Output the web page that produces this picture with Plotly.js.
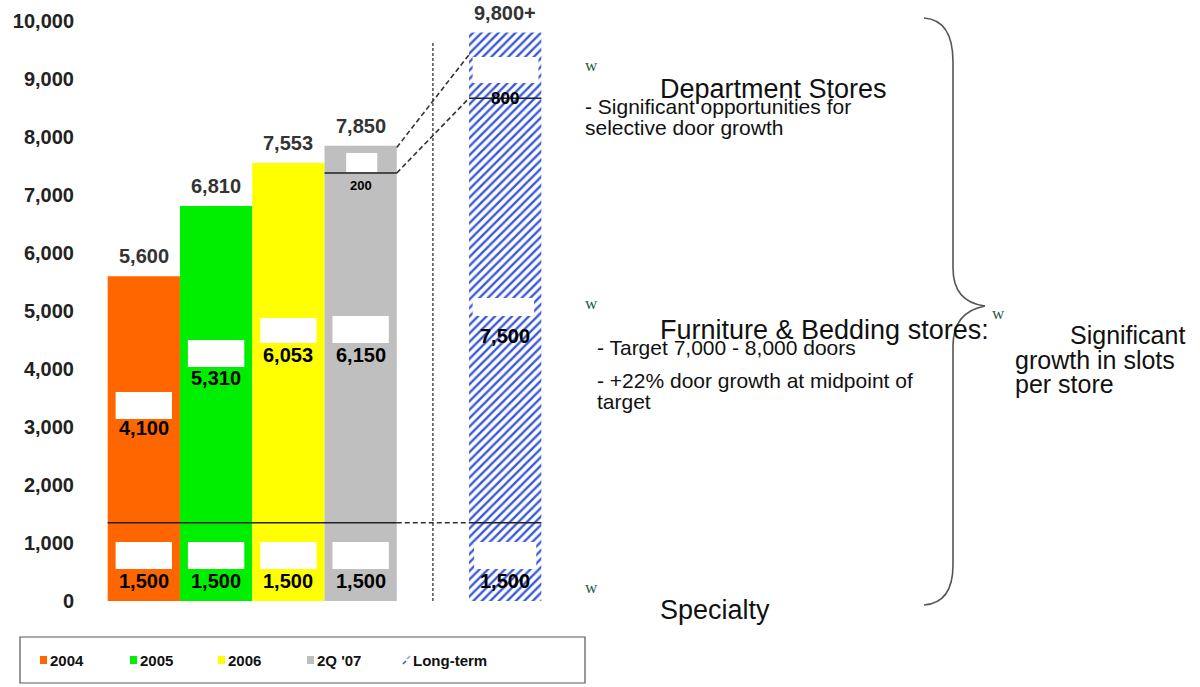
<!DOCTYPE html>
<html><head><meta charset="utf-8">
<script src="https://cdn.plot.ly/plotly-3.0.1.min.js"></script>
<style>html,body{margin:0;padding:0;background:#fff}</style>
</head><body><div id="chart" style="width:1200px;height:687px"></div>
<script>
const categories = ['2004', '2005', '2006', "2Q '07", 'Long-term'];
const positions = [0, 1, 2, 3, 5];
const totals = [5600, 6810, 7553, 7850, 9800];
const totalLabels = ['5,600', '6,810', '7,553', '7,850', '9,800+'];
const specialty = [1500, 1500, 1500, 1500, 1500];
const furniture = [4100, 5310, 6053, 6150, 7500];
const deptStores = [null, null, null, 200, 800];
const specialtyLine = 1350;
const deptLine = [null, null, null, 7380, 8670];
const longTermTopDash = 9420;
const yTicks = [0, 1000, 2000, 3000, 4000, 5000, 6000, 7000, 8000, 9000, 10000];
const colors = ['#ff6600', '#00ee00', '#ffff00', '#bfbfbf', '#3b5bd6'];

const FONT = 'Liberation Sans, Arial, sans-serif';
const L = 86, R = 563, T = 21, B = 601;
const px = x => (x - L) / (R - L);
const py = y => (B - y) / (B - T);
const fmt = v => v.toLocaleString('en-US');

const traces = [];
for (let i = 0; i < 5; i++) {
  const t = {
    type: 'bar', x: [positions[i]], y: [totals[i]], width: 1, name: categories[i],
    showlegend: false, hoverinfo: 'skip',
    marker: {color: colors[i], line: {width: 0}}
  };
  if (i === 4) {
    t.marker = {color: '#ffffff', line: {width: 0},
      pattern: {shape: '/', fgcolor: colors[4], bgcolor: '#ffffff', size: 6, solidity: 0.4}};
  }
  traces.push(t);
}
// connecting dashed lines
traces.push({type: 'scatter', mode: 'lines', x: [positions[3] + 0.5, positions[4] - 0.5],
  y: [totals[3] - 30, longTermTopDash], line: {color: '#333', width: 1.6, dash: '5px,3px'}, showlegend: false, hoverinfo: 'skip'});
traces.push({type: 'scatter', mode: 'lines', x: [positions[3] + 0.5, positions[4] - 0.5],
  y: [deptLine[3], deptLine[4]], line: {color: '#333', width: 1.6, dash: '5px,3px'}, showlegend: false, hoverinfo: 'skip'});

const shapes = [];
const annotations = [];
const white = (x0, x1, y0, y1) => shapes.push({type: 'rect', xref: 'x', yref: 'y', x0, x1, y0, y1,
  fillcolor: '#ffffff', line: {width: 0}, layer: 'above'});

// white label boxes
for (let i = 0; i < 5; i++) {
  const c = positions[i];
  const hw = i === 4 ? 0.43 : 0.39;
  white(c - hw, c + hw, 552, 1017);
}
white(positions[0] - 0.39, positions[0] + 0.39, 3138, 3603);
white(positions[1] - 0.39, positions[1] + 0.39, 4034, 4500);
white(positions[2] - 0.39, positions[2] + 0.39, 4448, 4879);
white(positions[3] - 0.39, positions[3] + 0.39, 4448, 4914);
white(positions[4] - 0.45, positions[4] + 0.40, 4914, 5224);
white(positions[4] - 0.45, positions[4] + 0.46, 8931, 9379);
white(positions[3] - 0.2, positions[3] + 0.23, 7397, 7724);

// horizontal lines
const solidLine = {color: '#222', width: 1.5};
shapes.push({type: 'line', xref: 'x', yref: 'y', x0: positions[0] - 0.5, x1: positions[3] + 0.5, y0: specialtyLine, y1: specialtyLine, line: solidLine, layer: 'above'});
shapes.push({type: 'line', xref: 'x', yref: 'y', x0: positions[3] + 0.5, x1: positions[4] - 0.5, y0: specialtyLine, y1: specialtyLine, line: {color: '#333', width: 1.6, dash: '5px,3px'}, layer: 'above'});
shapes.push({type: 'line', xref: 'x', yref: 'y', x0: positions[4] - 0.5, x1: positions[4] + 0.5, y0: specialtyLine, y1: specialtyLine, line: solidLine, layer: 'above'});
shapes.push({type: 'line', xref: 'x', yref: 'y', x0: positions[3] - 0.5, x1: positions[3] + 0.5, y0: deptLine[3], y1: deptLine[3], line: solidLine, layer: 'above'});
shapes.push({type: 'line', xref: 'x', yref: 'y', x0: positions[4] - 0.5, x1: positions[4] + 0.5, y0: deptLine[4], y1: deptLine[4], line: solidLine, layer: 'above'});
// vertical separator
shapes.push({type: 'line', xref: 'x', yref: 'y', x0: 4, x1: 4, y0: 0, y1: 9640, line: {color: '#333', width: 1.3, dash: '3px,2px'}, layer: 'above'});

// total labels
for (let i = 0; i < 5; i++) {
  annotations.push({x: positions[i], y: totals[i], xref: 'x', yref: 'y', text: totalLabels[i], showarrow: false,
    yanchor: 'middle', yshift: 20, font: {family: FONT, size: 20, color: '#333', weight: 'bold'}});
  annotations.push({x: positions[i], y: 345, xref: 'x', yref: 'y', text: fmt(specialty[i]), showarrow: false,
    yanchor: 'middle', font: {family: FONT, size: 20, color: '#000', weight: 'bold'}});
}
const furnY = [2983, 3845, 4241, 4241, 4569];
for (let i = 0; i < 5; i++) {
  annotations.push({x: positions[i], y: furnY[i], xref: 'x', yref: 'y', text: fmt(furniture[i]), showarrow: false,
    yanchor: 'middle', font: {family: FONT, size: 20, color: '#000', weight: 'bold'}});
}
annotations.push({x: positions[3], y: 7172, xref: 'x', yref: 'y', text: fmt(deptStores[3]), showarrow: false,
  yanchor: 'middle', font: {family: FONT, size: 13, color: '#000', weight: 'bold'}});
annotations.push({x: positions[4], y: deptLine[4], xref: 'x', yref: 'y', text: fmt(deptStores[4]), showarrow: false,
  yanchor: 'middle', font: {family: FONT, size: 17, color: '#000', weight: 'bold'}});

// right side texts
const txt = (x, y, text, size, extra) => annotations.push(Object.assign({x: px(x), y: py(y), xref: 'paper', yref: 'paper',
  text, showarrow: false, xanchor: 'left', yanchor: 'middle', font: {family: FONT, size, color: '#111'}}, extra || {}));
txt(658, 89, 'Department Stores', 27);
txt(583, 106, '- Significant opportunities for', 21);
txt(583, 128, 'selective door growth', 21);
txt(658, 330, 'Furniture &amp; Bedding stores:', 27);
txt(595, 347, '- Target 7,000 - 8,000 doors', 21);
txt(595, 380, '- +22% door growth at midpoint of', 21);
txt(595, 402, 'target', 21);
txt(658, 610, 'Specialty', 27);
txt(1068, 335, 'Significant', 25);
txt(1013, 360, 'growth in slots', 25);
txt(1013, 384, 'per store', 25);
const wFont = {family: 'Liberation Serif, DejaVu Serif, serif', size: 17, color: '#1e5a4a'};
[[583, 65], [583, 303], [583, 587], [990, 313]].forEach(p => txt(p[0], p[1], 'w', 17, {font: wFont}));

// brace
const P = (x, y) => px(x).toFixed(5) + ',' + py(y).toFixed(5);
const bracePath = 'M' + P(924, 18) + ' Q' + P(953, 20) + ' ' + P(953, 62) + ' L' + P(953, 268) +
  ' Q' + P(953, 302) + ' ' + P(985, 306) + ' Q' + P(953, 312) + ' ' + P(953, 346) + ' L' + P(953, 565) +
  ' Q' + P(953, 603) + ' ' + P(924, 605);
shapes.push({type: 'path', xref: 'paper', yref: 'paper', path: bracePath, line: {color: '#555', width: 1.6}});

// legend box
shapes.push({type: 'rect', xref: 'paper', yref: 'paper', x0: px(20), x1: px(585), y0: py(683), y1: py(637),
  line: {color: '#555', width: 1.2}, fillcolor: 'rgba(0,0,0,0)'});
const legX = [40, 130, 218, 307, 403];
for (let i = 0; i < 5; i++) {
  if (i < 4) {
    shapes.push({type: 'rect', xref: 'paper', yref: 'paper', x0: px(legX[i]), x1: px(legX[i] + 7), y0: py(664), y1: py(656),
      fillcolor: colors[i], line: {width: 0}});
  } else {
    shapes.push({type: 'line', xref: 'paper', yref: 'paper', x0: px(legX[i]), x1: px(legX[i] + 3), y0: py(664), y1: py(661), line: {color: colors[4], width: 1.6}});
    shapes.push({type: 'line', xref: 'paper', yref: 'paper', x0: px(legX[i] + 4), x1: px(legX[i] + 7), y0: py(659), y1: py(656), line: {color: '#8fa3e6', width: 1.6}});
  }
  annotations.push({x: px(legX[i] + 8), y: py(660), xref: 'paper', yref: 'paper', text: categories[i], showarrow: false,
    xanchor: 'left', yanchor: 'middle', font: {family: FONT, size: 15, color: '#111', weight: 'bold'}});
}

const layout = {
  width: 1200, height: 687,
  margin: {l: L, r: 1200 - R, t: T, b: 687 - B, pad: 0},
  paper_bgcolor: '#fff', plot_bgcolor: '#fff',
  showlegend: false, barmode: 'overlay',
  xaxis: {range: [-0.8, 5.8], showgrid: false, zeroline: false, showline: false, showticklabels: false, ticks: '', fixedrange: true},
  yaxis: {range: [0, 10000], tickvals: yTicks, ticktext: yTicks.map(fmt), showgrid: false, zeroline: false, showline: false,
    ticks: '', ticklabelstandoff: 11, tickfont: {family: FONT, size: 20, color: '#222', weight: 'bold'}, fixedrange: true},
  shapes, annotations
};
Plotly.newPlot('chart', traces, layout, {displayModeBar: false, staticPlot: true});
</script></body></html>
